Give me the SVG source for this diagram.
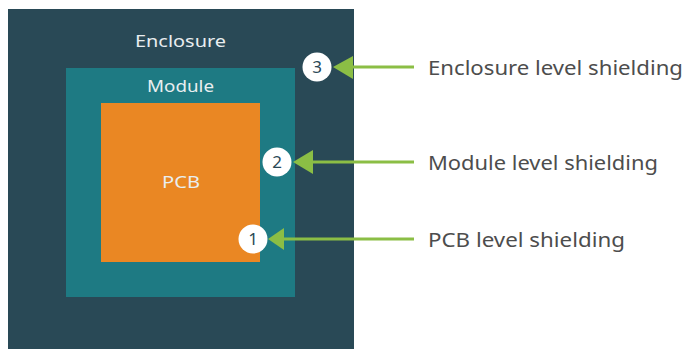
<svg xmlns="http://www.w3.org/2000/svg" width="687" height="349" viewBox="0 0 687 349">
<style>
.box-label{font-family:"Noto Sans","Open Sans",sans-serif;font-size:17px;fill:#e9eef0;text-anchor:middle}
.side-label{font-family:"Noto Sans","Open Sans",sans-serif;font-size:20px;fill:#4d4d4d}
.badge{fill:#ffffff}
.num{font-family:"Noto Sans","Open Sans",sans-serif;font-size:17px;fill:#2a4856;text-anchor:middle}
.conn{stroke:#8bbe45;stroke-width:3;fill:none}
.head{fill:#8bbe45}
</style>
<rect width="687" height="349" fill="#ffffff"/>
<g id="enclosure">
<rect x="8" y="9" width="346" height="340" fill="#294956"/>
<text class="box-label" x="180.5" y="47" textLength="91" lengthAdjust="spacingAndGlyphs">Enclosure</text>
</g>
<g id="module">
<rect x="66" y="68" width="229" height="229" fill="#1e7a83"/>
<text class="box-label" x="180.5" y="92" textLength="67" lengthAdjust="spacingAndGlyphs">Module</text>
</g>
<g id="pcb">
<rect x="101" y="103" width="159" height="159" fill="#ea8723"/>
<text class="box-label" x="181" y="188" textLength="38" lengthAdjust="spacingAndGlyphs">PCB</text>
</g>
<g id="connectors">
<line class="conn" x1="350" y1="67" x2="414" y2="67"/>
<polygon class="head" points="333,67 353,56 353,79"/>
<line class="conn" x1="310" y1="162" x2="414" y2="162"/>
<polygon class="head" points="293,162 313,150 313,174"/>
<line class="conn" x1="280" y1="239" x2="414" y2="239"/>
<polygon class="head" points="268,239 284,228 284,250"/>
</g>
<g id="badge3">
<circle class="badge" cx="317" cy="67" r="14.5"/>
<text class="num" x="317" y="73">3</text>
</g>
<g id="badge2">
<circle class="badge" cx="277" cy="162" r="14.5"/>
<text class="num" x="277" y="168">2</text>
</g>
<g id="badge1">
<circle class="badge" cx="253" cy="239" r="14.5"/>
<text class="num" x="253" y="245">1</text>
</g>
<g id="label3">
<text class="side-label" x="428" y="75" textLength="255" lengthAdjust="spacingAndGlyphs">Enclosure level shielding</text>
</g>
<g id="label2">
<text class="side-label" x="428" y="170" textLength="230" lengthAdjust="spacingAndGlyphs">Module level shielding</text>
</g>
<g id="label1">
<text class="side-label" x="428" y="247" textLength="197" lengthAdjust="spacingAndGlyphs">PCB level shielding</text>
</g>
</svg>
